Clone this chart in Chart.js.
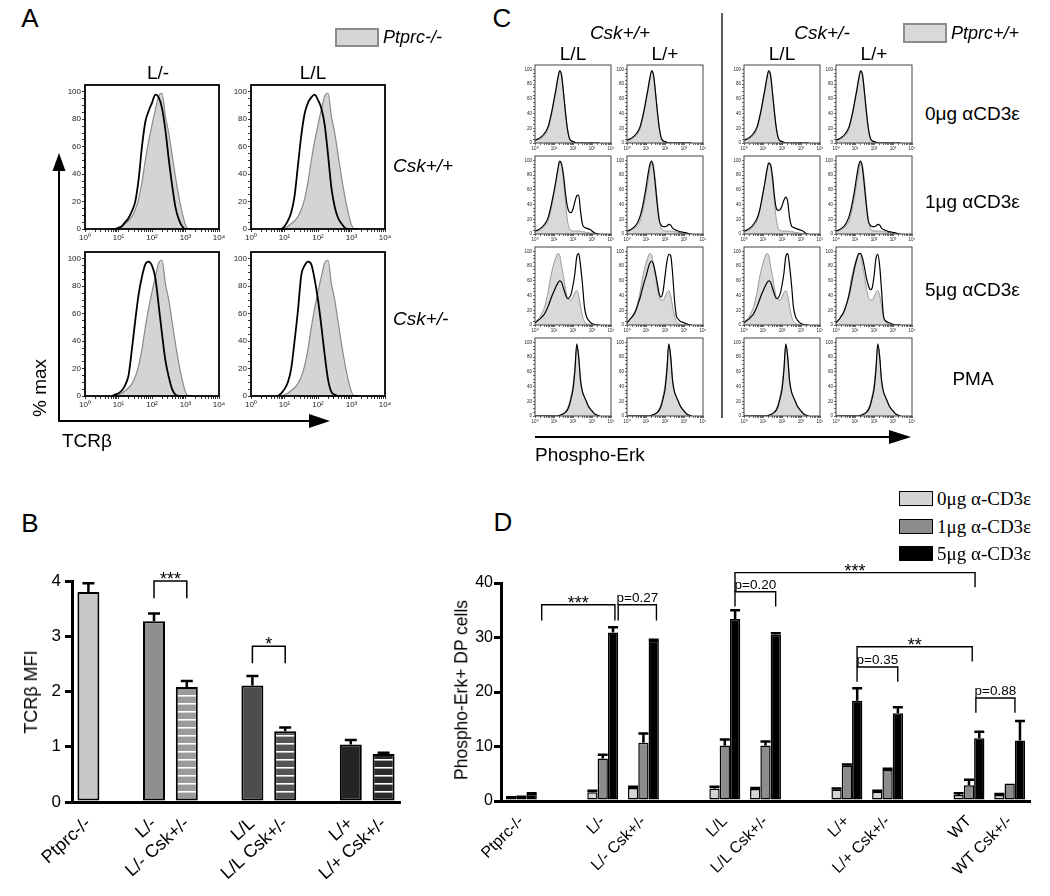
<!DOCTYPE html>
<html>
<head>
<meta charset="utf-8">
<title>TCR signalling figure</title>
<script src="https://cdn.jsdelivr.net/npm/chart.js@4.4.1/dist/chart.umd.min.js"></script>
<style>
  body { margin: 0; background: #fff; }
  #fig { position: relative; width: 1050px; height: 896px; overflow: hidden; background: #fff;
         font-family: "Liberation Sans", Arial, Helvetica, sans-serif; color: #000; }
  #fig canvas, #fig svg { position: absolute; }
  .txt { position: absolute; white-space: nowrap; line-height: 1; }
  .box { position: absolute; box-sizing: border-box; }
</style>
</head>
<body>
<div id="fig"></div>
<script>
// ---------- data ----------
// histogram channels, log10 of fluorescence
const aGrid = [0.8, 0.9, 1.0, 1.1, 1.2, 1.3, 1.4, 1.5, 1.6, 1.7, 1.8, 1.9, 2.0, 2.1, 2.2, 2.3, 2.4, 2.5, 2.6, 2.7, 2.8, 2.9, 3.0, 3.1, 3.2];
const aPtprcKo = [0, 0, 1, 2, 4, 6, 9, 14, 22, 34, 50, 64, 76, 87, 97, 99, 82, 70, 54, 38, 24, 12, 3, 0, 0];
const aLminus = [0, 0, 1, 2, 5, 8, 13, 20, 36, 60, 78, 86, 92, 98, 96, 88, 72, 51, 32, 16, 7, 2, 0, 0, 0];
const aLL = [0, 0, 2, 6, 12, 24, 46, 68, 84, 92, 96, 98, 94, 88, 76, 54, 30, 16, 8, 4, 1, 0, 0, 0, 0];
const aLminusCsk = [0, 1, 2, 4, 8, 15, 34, 55, 74, 87, 96, 98, 95, 86, 66, 45, 26, 14, 5, 1, 0, 0, 0, 0, 0];
const aLLCsk = [0, 2, 5, 10, 20, 40, 62, 88, 95, 98, 96, 85, 70, 51, 30, 12, 3, 1, 0, 0, 0, 0, 0, 0, 0];

const cGrid = [0.0, 0.1, 0.2, 0.3, 0.4, 0.5, 0.6, 0.7, 0.8, 0.9, 1.0, 1.1, 1.2, 1.3, 1.4, 1.5, 1.6, 1.7,
               1.8, 1.9, 2.0, 2.1, 2.2, 2.3, 2.4, 2.5, 2.6, 2.7, 2.8, 2.9, 3.0, 3.1, 3.2, 3.3, 3.4];
const cGrey0 = [3, 4, 5, 6, 8, 10, 14, 20, 30, 42, 56, 70, 86, 98, 92, 70, 45, 22, 8, 3, 1, 0, 0, 0, 0, 0, 0, 0, 0, 0, 0, 0, 0, 0, 0];
const cBlack0 = [4, 5, 6, 8, 10, 13, 17, 23, 33, 45, 59, 73, 88, 98, 92, 68, 42, 20, 7, 3, 2, 1, 0, 0, 0, 0, 0, 0, 0, 0, 0, 0, 0, 0, 0];
const cGrey1 = [3, 4, 5, 6, 8, 10, 13, 19, 28, 40, 55, 70, 86, 98, 93, 72, 45, 20, 8, 5, 4, 4, 4, 4, 4, 3, 3, 2, 2, 1, 1, 0, 0, 0, 0];
const cLL1 = [4, 5, 6, 8, 10, 13, 17, 23, 33, 45, 58, 72, 88, 99, 95, 80, 56, 38, 30, 29, 34, 44, 52, 53, 30, 13, 9, 8, 7, 6, 4, 2, 1, 0, 0];
const cLLCsk1 = [4, 5, 6, 8, 10, 13, 17, 22, 30, 42, 56, 70, 86, 96, 94, 78, 52, 35, 32, 33, 38, 46, 50, 44, 22, 11, 9, 8, 7, 6, 5, 4, 2, 0, 0];
const cLplus1 = [4, 5, 6, 8, 10, 13, 18, 25, 35, 48, 63, 80, 94, 99, 88, 64, 38, 18, 12, 10, 10, 11, 13, 12, 8, 6, 5, 4, 3, 3, 2, 2, 1, 0, 0];
const cGrey5 = [3, 6, 9, 13, 18, 24, 34, 46, 62, 74, 84, 92, 97, 95, 80, 66, 50, 38, 34, 34, 38, 44, 47, 40, 25, 12, 5, 2, 1, 0, 0, 0, 0, 0, 0];
const cLL5 = [3, 5, 7, 9, 12, 15, 20, 26, 33, 40, 46, 52, 57, 60, 58, 50, 42, 36, 37, 42, 54, 70, 93, 97, 80, 55, 25, 12, 7, 4, 2, 1, 0, 0, 0];
const cLplus5 = [3, 6, 9, 12, 16, 22, 30, 38, 48, 58, 66, 76, 84, 87, 82, 70, 56, 42, 38, 46, 66, 86, 96, 94, 70, 34, 12, 8, 5, 4, 3, 2, 1, 0, 0];
const cLplusCsk5 = [3, 6, 9, 13, 17, 24, 32, 42, 55, 68, 80, 90, 97, 97, 90, 78, 64, 54, 48, 50, 66, 90, 96, 80, 46, 12, 6, 4, 3, 2, 1, 0, 0, 0, 0];
const cGreyPma = [0, 0, 0, 0, 0, 0, 0, 0, 0, 0, 0, 0, 0, 1, 2, 4, 6, 10, 17, 28, 42, 66, 96, 82, 46, 32, 25, 19, 13, 9, 6, 3, 1, 0, 0];
const cBlackPma = [0, 0, 0, 0, 0, 0, 0, 0, 0, 0, 0, 0, 0, 1, 2, 3, 5, 8, 14, 24, 36, 62, 98, 80, 48, 33, 26, 20, 14, 10, 7, 4, 2, 1, 0];

const cColumns = ['L/L', 'L/+', 'L/L', 'L/+'];
const cRowLabels = ['0\u03bcg \u03b1CD3\u03b5', '1\u03bcg \u03b1CD3\u03b5', '5\u03bcg \u03b1CD3\u03b5', 'PMA'];

// panel B
const bCategories = ['Ptprc-/-', '', 'L/-', 'L/- Csk+/-', '', 'L/L', 'L/L Csk+/-', '', 'L/+', 'L/+ Csk+/-'];
const bMfi = [3.80, null, 3.27, 2.08, null, 2.11, 1.28, null, 1.04, 0.87];
const bSem = [0.16, null, 0.14, 0.11, null, 0.17, 0.07, null, 0.08, 0.02];
const bStats = [
  { from: 2, to: 3, top: 4.0, leftEnd: 3.69, rightEnd: 3.69, label: '***' },
  { from: 5, to: 6, top: 2.82, leftEnd: 2.51, rightEnd: 2.51, label: '*' }
];

// panel D
const dCategories = ['Ptprc-/-', '', 'L/-', 'L/- Csk+/-', '', 'L/L', 'L/L Csk+/-', '', 'L/+', 'L/+ Csk+/-', '', 'WT', 'WT Csk+/-'];
const dSeries = ['0\u03bcg \u03b1-CD3\u03b5', '1\u03bcg \u03b1-CD3\u03b5', '5\u03bcg \u03b1-CD3\u03b5'];
const d0ug = [0.6, null, 1.6, 2.4, null, 2.3, 2.2, null, 2.1, 1.7, null, 1.1, 1.1];
const d1ug = [0.7, null, 7.8, 10.7, null, 10.2, 10.2, null, 6.5, 5.7, null, 2.9, 3.2];
const d5ug = [1.3, null, 30.9, 29.4, null, 33.4, 30.5, null, 18.4, 16.1, null, 11.5, 11.1];
const d0Sem = [0.1, null, 0.3, 0.2, null, 0.3, 0.2, null, 0.2, 0.2, null, 0.3, 0.2];
const d1Sem = [0.1, null, 0.7, 1.7, null, 1.1, 0.7, null, 0.2, 0.2, null, 1.0, 0];
const d5Sem = [0.1, null, 1.0, 0.2, null, 1.6, 0.3, null, 2.3, 1.1, null, 1.2, 3.6];
const dStats = [
  { from: 0.5, to: 2.3, top: 36.0, leftEnd: 33.1, rightEnd: 33.1, label: '***' },
  { from: 2.38, to: 3.32, top: 36.0, leftEnd: 33.1, rightEnd: 33.1, label: 'p=0.27' },
  { from: 5.25, to: 11.15, top: 41.9, leftEnd: 38.4, rightEnd: 39.2, label: '***' },
  { from: 5.25, to: 6.25, top: 38.4, leftEnd: 35.7, rightEnd: 35.7, label: 'p=0.20' },
  { from: 8.25, to: 11.08, top: 28.3, leftEnd: 24.6, rightEnd: 25.6, label: '**' },
  { from: 8.25, to: 9.25, top: 24.6, leftEnd: 21.9, rightEnd: 21.9, label: 'p=0.35' },
  { from: 11.17, to: 12.13, top: 18.9, leftEnd: 16.2, rightEnd: 16.2, label: 'p=0.88' }
];

// ---------- helpers ----------
const SANS = '"Liberation Sans", Arial, Helvetica, sans-serif';
const SERIF = '"Liberation Serif", "Times New Roman", serif';
Chart.defaults.font.family = SANS;
Chart.defaults.color = '#000';

const fig = document.getElementById('fig');

function addText(str, x, y, size, opt = {}) {
  const d = document.createElement('div');
  d.className = 'txt';
  d.textContent = str;
  d.style.left = x + 'px';
  d.style.top = y + 'px';
  d.style.fontSize = size + 'px';
  if (opt.italic) d.style.fontStyle = 'italic';
  if (opt.family) d.style.fontFamily = opt.family;
  const ax = opt.left ? '0' : '-50%';
  d.style.transform = 'translate(' + ax + ', -50%)' + (opt.rotate ? ' rotate(' + opt.rotate + 'deg)' : '');
  fig.appendChild(d);
}

function addBox(x, y, w, h, fill, border, bw) {
  const b = document.createElement('div');
  b.className = 'box';
  Object.assign(b.style, { left: x + 'px', top: y + 'px', width: w + 'px', height: h + 'px',
    background: fill, border: bw + 'px solid ' + border });
  fig.appendChild(b);
}

function addCanvas(x, y, w, h) {
  const c = document.createElement('canvas');
  c.width = w; c.height = h;
  c.style.left = x + 'px'; c.style.top = y + 'px';
  c.style.width = w + 'px'; c.style.height = h + 'px';
  fig.appendChild(c);
  return c;
}

// box round the plot area of the histograms
const frameBox = {
  id: 'frameBox',
  afterDraw(chart, args, opts) {
    const { ctx, chartArea: a } = chart;
    ctx.save();
    ctx.strokeStyle = opts.color;
    ctx.lineWidth = opts.width;
    ctx.strokeRect(a.left, a.top, a.right - a.left, a.bottom - a.top);
    ctx.restore();
  }
};

// mean + SEM whiskers on top of bars
const errorBars = {
  id: 'errorBars',
  afterDatasetsDraw(chart, args, opts) {
    const ctx = chart.ctx, ys = chart.scales.y;
    ctx.save();
    ctx.strokeStyle = '#000';
    ctx.lineWidth = opts.width;
    opts.sem.forEach((sems, di) => {
      const vals = chart.data.datasets[di].data;
      chart.getDatasetMeta(di).data.forEach((bar, i) => {
        if (vals[i] == null || !sems[i]) return;
        const top = ys.getPixelForValue(vals[i] + sems[i]);
        const half = opts.cap / 2;
        ctx.beginPath();
        ctx.moveTo(bar.x, bar.y);
        ctx.lineTo(bar.x, top);
        ctx.moveTo(bar.x - half, top);
        ctx.lineTo(bar.x + half, top);
        ctx.stroke();
      });
    });
    ctx.restore();
  }
};

// significance brackets
const brackets = {
  id: 'brackets',
  afterDraw(chart, args, opts) {
    const ctx = chart.ctx, xs = chart.scales.x, ys = chart.scales.y;
    ctx.save();
    ctx.strokeStyle = '#000';
    ctx.fillStyle = '#000';
    ctx.lineWidth = opts.width;
    ctx.textAlign = 'center';
    ctx.textBaseline = 'alphabetic';
    opts.items.forEach(b => {
      const x1 = xs.getPixelForValue(b.from), x2 = xs.getPixelForValue(b.to);
      const yt = ys.getPixelForValue(b.top);
      ctx.beginPath();
      ctx.moveTo(x1, ys.getPixelForValue(b.leftEnd));
      ctx.lineTo(x1, yt);
      ctx.lineTo(x2, yt);
      ctx.lineTo(x2, ys.getPixelForValue(b.rightEnd));
      ctx.stroke();
      const star = b.label.charAt(0) === '*';
      ctx.font = star ? opts.starFont : opts.textFont;
      ctx.fillText(b.label, (x1 + x2) / 2, yt + (star ? opts.starShift : -opts.textGap));
    });
    ctx.restore();
  }
};

const SUP = ['\u2070', '\u00b9', '\u00b2', '\u00b3', '\u2074'];
const decadeTicks = [];
for (let k = 0; k < 4; k++) {
  [1, 2, 3, 4, 5, 6, 7, 8, 9].forEach(m => decadeTicks.push(k + Math.log10(m)));
}
decadeTicks.push(4);
const pctTicks = [];
for (let v = 0; v <= 100; v += 5) pctTicks.push(v);

function histogram(fx, fy, grid, grey, black, st) {
  const W = st.w + st.padL + st.padR, H = st.h + st.padT + st.padB;
  const cv = addCanvas(fx - st.padL, fy - st.padT, W, H);
  const pts = arr => grid.map((x, i) => ({ x: x, y: arr[i] }));
  const axisGrid = { drawOnChartArea: false, tickLength: st.tick, color: st.frameColor, lineWidth: 0.8 };
  new Chart(cv, {
    type: 'line',
    data: {
      datasets: [
        { data: pts(black), borderColor: '#000', borderWidth: st.blackW, fill: false, order: 0 },
        { data: pts(grey), borderColor: st.greyLine, borderWidth: st.greyW,
          backgroundColor: st.greyFill, fill: 'origin', order: 1 }
      ]
    },
    options: {
      responsive: false, animation: false, events: [],
      layout: { padding: { top: st.padT, right: st.padR, left: 0, bottom: 0 } },
      elements: { point: { radius: 0 }, line: { cubicInterpolationMode: 'monotone' } },
      plugins: { legend: { display: false }, tooltip: { enabled: false },
                 frameBox: { color: st.frameColor, width: st.frameW } },
      scales: {
        x: {
          type: 'linear', min: 0, max: 4,
          afterBuildTicks: s => { s.ticks = decadeTicks.map(v => ({ value: v })); },
          afterFit: s => { s.height = st.padB; },
          grid: axisGrid, border: { display: false },
          ticks: { autoSkip: false, maxRotation: 0, padding: 1, color: '#222', font: { size: st.font },
                   callback: v => Number.isInteger(v) ? '10' + SUP[v] : '' }
        },
        y: {
          min: 0, max: st.ymax,
          afterBuildTicks: s => { s.ticks = pctTicks.map(v => ({ value: v })); },
          afterFit: s => { s.width = st.padL; },
          grid: axisGrid, border: { display: false },
          ticks: { autoSkip: false, padding: 1, color: '#222', font: { size: st.font },
                   callback: v => v % 20 === 0 ? String(v) : '' }
        }
      }
    },
    plugins: [frameBox]
  });
}

// ---------- decorations: arrows and divider ----------
const svg = document.createElementNS('http://www.w3.org/2000/svg', 'svg');
svg.setAttribute('width', '1050');
svg.setAttribute('height', '896');
svg.style.left = '0px';
svg.style.top = '0px';
svg.innerHTML =
  '<line x1="59" y1="422" x2="59" y2="168" stroke="#000" stroke-width="2"/>' +
  '<polygon points="59,153 52.5,171 65.5,171" fill="#000"/>' +
  '<line x1="58" y1="421" x2="312" y2="421" stroke="#000" stroke-width="2"/>' +
  '<polygon points="330,421 309,414 309,428" fill="#000"/>' +
  '<line x1="535" y1="437" x2="892" y2="437" stroke="#000" stroke-width="2"/>' +
  '<polygon points="911,437 889,430 889,444" fill="#000"/>' +
  '<line x1="722" y1="13" x2="722" y2="418" stroke="#000" stroke-width="1.3"/>';
fig.appendChild(svg);

// ---------- panel A ----------
const A_STYLE = { w: 134, h: 144, padL: 26, padR: 8, padT: 8, padB: 16, ymax: 105, font: 8, tick: 3,
  frameW: 1.8, frameColor: '#000', blackW: 1.8, greyW: 1.2, greyLine: '#8a8a8a', greyFill: '#d4d4d4' };
histogram(85, 85, aGrid, aPtprcKo, aLminus, A_STYLE);
histogram(251, 85, aGrid, aPtprcKo, aLL, A_STYLE);
histogram(85, 252, aGrid, aPtprcKo, aLminusCsk, A_STYLE);
histogram(251, 252, aGrid, aPtprcKo, aLLCsk, A_STYLE);

addText('A', 30, 18, 26);
addBox(335, 28, 44, 19, '#d6d6d6', '#8c8c8c', 2);
addText('Ptprc-/-', 383, 37, 18, { italic: true, left: true });
addText('L/-', 158, 72, 19);
addText('L/L', 313, 72, 19);
addText('Csk+/+', 393, 165, 19, { italic: true, left: true });
addText('Csk+/-', 393, 318, 19, { italic: true, left: true });
addText('% max', 39, 388, 19, { rotate: -90 });
addText('TCR\u03b2', 62, 440, 19, { left: true });

// ---------- panel C ----------
const C_STYLE = { w: 76, h: 78, padL: 14, padR: 6, padT: 5, padB: 10, ymax: 106, font: 4.5, tick: 2,
  frameW: 1, frameColor: '#444', blackW: 1.2, greyW: 1, greyLine: '#9a9a9a', greyFill: '#d9d9d9' };
const cColX = [535, 627, 744, 836];
const cRowY = [65, 156, 247, 338];
const cGreyRows = [cGrey0, cGrey1, cGrey5, cGreyPma];
const cBlackRows = [
  [cBlack0, cBlack0, cBlack0, cBlack0],
  [cLL1, cLplus1, cLLCsk1, cLplus1],
  [cLL5, cLplus5, cLL5, cLplusCsk5],
  [cBlackPma, cBlackPma, cBlackPma, cBlackPma]
];
cRowY.forEach((y, r) => {
  cColX.forEach((x, c) => histogram(x, y, cGrid, cGreyRows[r], cBlackRows[r][c], C_STYLE));
});

addText('C', 502, 18, 26);
addText('Csk+/+', 620, 32, 19, { italic: true });
addText('Csk+/-', 822, 32, 19, { italic: true });
cColumns.forEach((t, c) => addText(t, cColX[c] + 38, 53, 19));
addBox(903, 23, 44, 20, '#d9d9d9', '#8c8c8c', 2);
addText('Ptprc+/+', 951, 33, 18, { italic: true, left: true });
[113, 201, 289].forEach((y, r) => addText(cRowLabels[r], 925, y, 19, { left: true }));
addText(cRowLabels[3], 973, 378, 19);
addText('Phospho-Erk', 535, 454, 19, { left: true });

// ---------- panel B ----------
function stripes(base) {
  const p = document.createElement('canvas');
  p.width = 8; p.height = 8;
  const g = p.getContext('2d');
  g.fillStyle = base;
  g.fillRect(0, 0, 8, 8);
  g.fillStyle = '#fff';
  g.fillRect(0, 3, 8, 1.6);
  return g.createPattern(p, 'repeat');
}
const bFills = ['#c8c8c8', '#fff', '#8f8f8f', stripes('#9a9a9a'), '#fff', '#4d4d4d', stripes('#555555'), '#fff', '#242424', stripes('#2a2a2a')];

const cvB = addCanvas(0, 540, 410, 356);
new Chart(cvB, {
  type: 'bar',
  data: {
    labels: bCategories,
    datasets: [{ data: bMfi, backgroundColor: bFills, borderColor: '#000', borderWidth: 2,
                 borderSkipped: false, barPercentage: 0.67, categoryPercentage: 1 }]
  },
  options: {
    responsive: false, animation: false, events: [],
    layout: { padding: { top: 41, right: 10, left: 0, bottom: 0 } },
    plugins: {
      legend: { display: false }, tooltip: { enabled: false },
      errorBars: { sem: [bSem], width: 2.5, cap: 12 },
      brackets: { items: bStats, width: 1.5, starFont: '18px ' + SANS, textFont: '14px ' + SANS, starShift: 4, textGap: 3 }
    },
    scales: {
      x: {
        afterFit: s => { s.height = 94; },
        grid: { display: false },
        border: { color: '#000', width: 3 },
        ticks: { autoSkip: false, minRotation: 42, maxRotation: 42, padding: 3, color: '#000',
                 font: { size: 18 } }
      },
      y: {
        min: 0, max: 4,
        afterFit: s => { s.width = 72; },
        grid: { drawOnChartArea: false, tickLength: 7, lineWidth: 3, color: '#000' },
        border: { color: '#000', width: 3 },
        ticks: { stepSize: 1, padding: 4, color: '#000', font: { size: 17 } }
      }
    }
  },
  plugins: [errorBars, brackets]
});
addText('B', 30, 523, 26);
addText('TCR\u03b2 MFI', 31, 692, 18, { rotate: -90 });

// ---------- panel D ----------
const dColours = ['#d4d4d4', '#8c8c8c', '#000000'];
const cvD = addCanvas(420, 540, 630, 356);
new Chart(cvD, {
  type: 'bar',
  data: {
    labels: dCategories,
    datasets: [d0ug, d1ug, d5ug].map((vals, i) => ({
      label: dSeries[i], data: vals, backgroundColor: dColours[i], borderColor: '#000', borderWidth: 1.5,
      borderSkipped: false, barPercentage: 1, categoryPercentage: 0.76
    }))
  },
  options: {
    responsive: false, animation: false, events: [],
    layout: { padding: { top: 43, right: 20, left: 0, bottom: 0 } },
    plugins: {
      legend: { display: false }, tooltip: { enabled: false },
      errorBars: { sem: [d0Sem, d1Sem, d5Sem], width: 2.5, cap: 10 },
      brackets: { items: dStats, width: 1.4, starFont: '18px ' + SANS, textFont: '13.5px ' + SANS, starShift: 4, textGap: 3 }
    },
    scales: {
      x: {
        afterFit: s => { s.height = 95; },
        grid: { display: false },
        border: { color: '#000', width: 3 },
        ticks: { autoSkip: false, minRotation: 45, maxRotation: 45, padding: 3, color: '#000',
                 font: { size: 16 } }
      },
      y: {
        min: 0, max: 40,
        afterFit: s => { s.width = 81; },
        grid: { drawOnChartArea: false, tickLength: 7, lineWidth: 3, color: '#000' },
        border: { color: '#000', width: 3 },
        ticks: { stepSize: 10, padding: 1, color: '#000', font: { size: 16 } }
      }
    }
  },
  plugins: [errorBars, brackets]
});
addText('D', 503, 522, 26);
addText('Phospho-Erk+ DP cells', 462, 690, 17.5, { rotate: -90 });
[498, 526, 553].forEach((y, i) => {
  addBox(899, y - 7.5, 34, 15, dColours[i], '#000', 1.5);
  addText(dSeries[i], 937, y, 19, { left: true, family: SERIF });
});
</script>
</body>
</html>
